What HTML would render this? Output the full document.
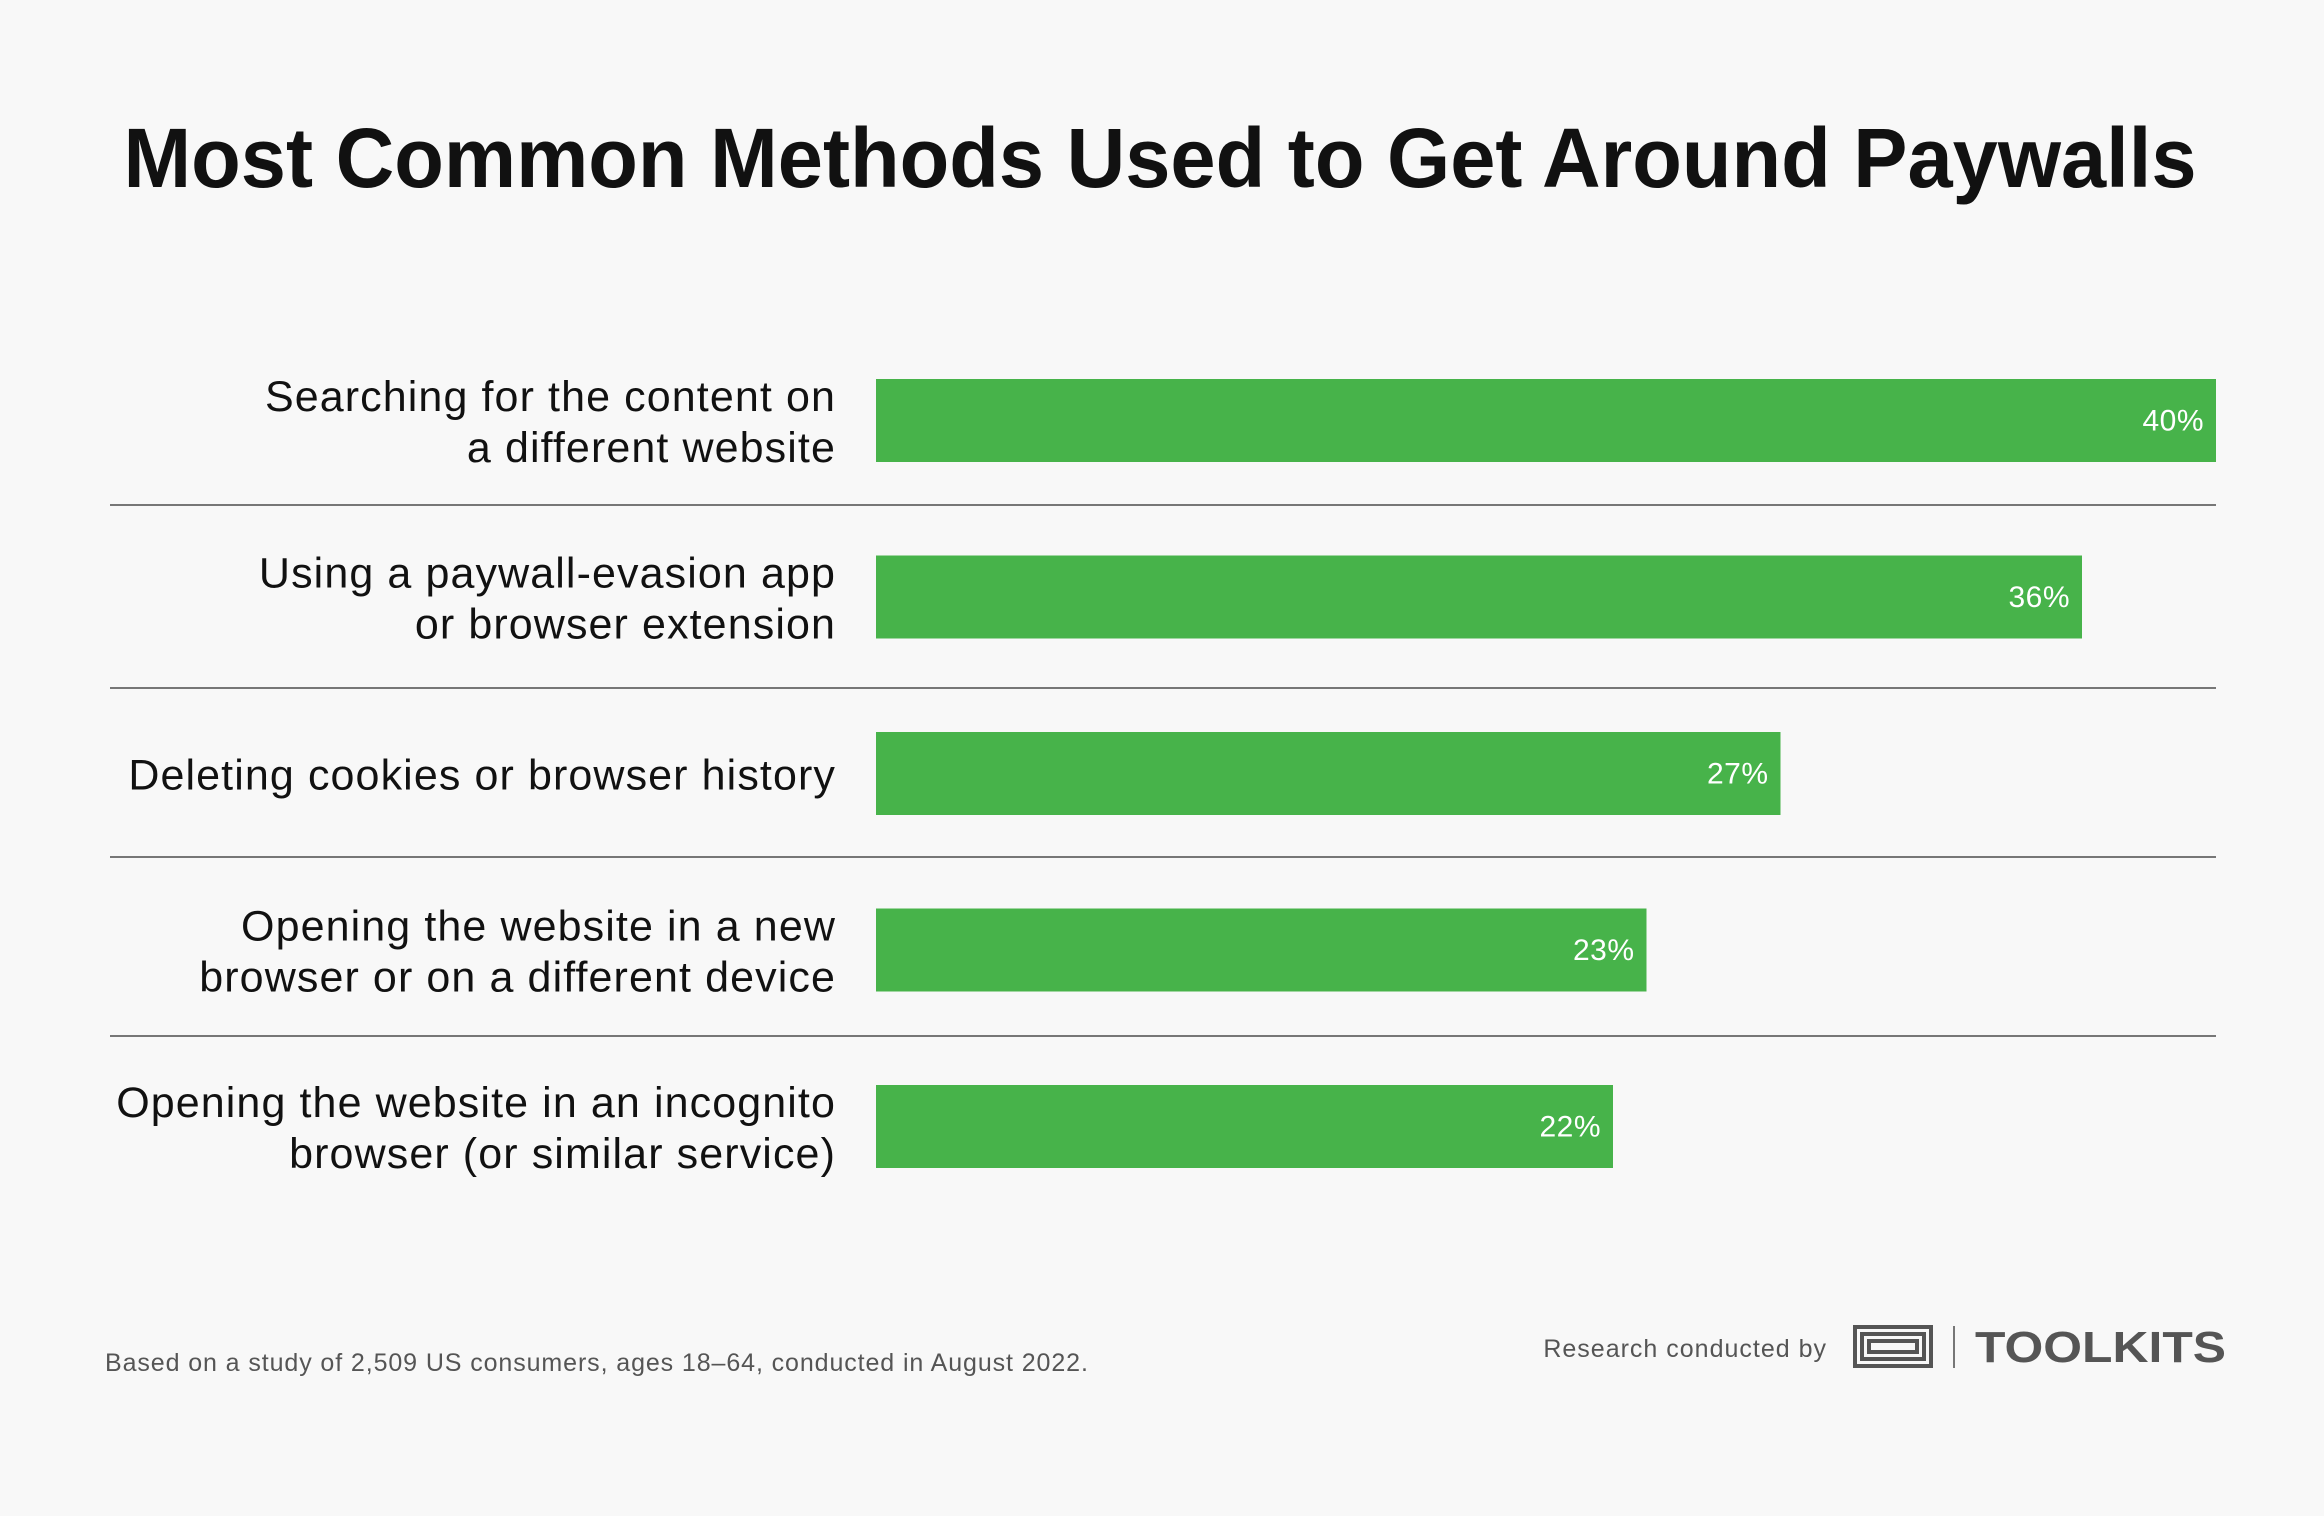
<!DOCTYPE html>
<html><head><meta charset="utf-8"><style>
html,body{margin:0;padding:0;background:#f8f8f8;}
svg{display:block;font-family:"Liberation Sans",sans-serif;}
</style></head><body>
<svg id="chart" width="2324" height="1516" viewBox="0 0 2324 1516" xmlns="http://www.w3.org/2000/svg">
<rect width="2324" height="1516" fill="#f8f8f8"/>
<text x="1160" y="187" text-anchor="middle" font-size="84" font-weight="bold" fill="#111" textLength="2073" lengthAdjust="spacingAndGlyphs">Most Common Methods Used to Get Around Paywalls</text>
<g id="bars"></g>
<text x="105" y="1371" font-size="25" fill="#555" letter-spacing="0.9">Based on a study of 2,509 US consumers, ages 18–64, conducted in August 2022.</text>
<text x="1827" y="1357" text-anchor="end" font-size="25" fill="#555" letter-spacing="1">Research conducted by</text>
<g fill="none" stroke="#555" stroke-width="4">
<rect x="1855" y="1327" width="76" height="39"/>
<rect x="1862" y="1334" width="62" height="25"/>
<rect x="1869" y="1341" width="48" height="11"/>
</g>
<line x1="1954" y1="1326" x2="1954" y2="1368" stroke="#777" stroke-width="2"/>
<text x="1975" y="1362" font-size="44" font-weight="bold" fill="#555" textLength="251" lengthAdjust="spacingAndGlyphs">TOOLKITS</text>
</svg>
<script>
const categories=[["Searching for the content on","a different website"],["Using a paywall-evasion app","or browser extension"],["Deleting cookies or browser history"],["Opening the website in a new","browser or on a different device"],["Opening the website in an incognito","browser (or similar service)"]];
const values=[40,36,27,23,22];
const valueLabels=["40%","36%","27%","23%","22%"];
const NS="http://www.w3.org/2000/svg";
const g=document.getElementById('bars');
const x0=876,pxPer=(2216-876)/40;
const xScale=v=>x0+v*pxPer;
const bandTop=i=>379+i*176.5;
const barH=83;
const seps=[505,688,857,1036];
function mk(t,a){const e=document.createElementNS(NS,t);for(const k in a)e.setAttribute(k,a[k]);g.appendChild(e);return e;}
values.forEach((v,i)=>{
  const y=bandTop(i);
  const r=mk('rect',{x:x0,y:y,width:xScale(v)-x0,height:barH,fill:'#47b34a'});
  
  
  const t=mk('text',{x:xScale(v)-12,y:y+barH/2+10,'text-anchor':'end','font-size':30,fill:'#fff','letter-spacing':0.5});
  t.textContent=valueLabels[i];
  
  
  const lines=categories[i];
  const cy=y+barH/2;
  lines.forEach((ln,j)=>{
    const by=cy+16+(j-(lines.length-1)/2)*51;
    const l=mk('text',{x:836,y:by,'text-anchor':'end','font-size':43,fill:'#111','letter-spacing':1.1});
    l.textContent=ln;
    
    
  });
  if(i<seps.length){
    const s=mk('line',{x1:110,x2:2216,y1:seps[i],y2:seps[i],stroke:'#777','stroke-width':2});
    
    
  }
});
</script>
</body></html>
